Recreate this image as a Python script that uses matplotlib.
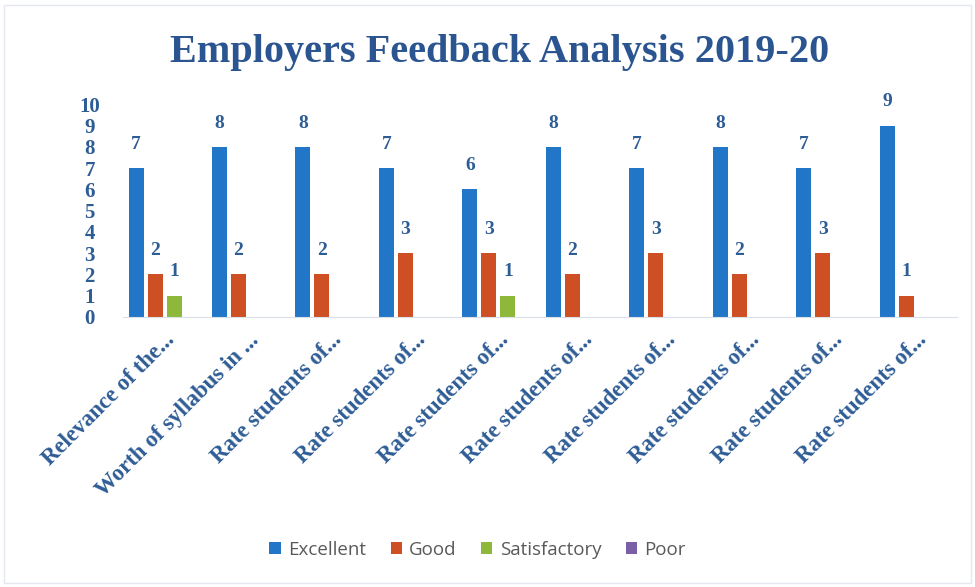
import matplotlib
matplotlib.use("Agg")
import matplotlib.pyplot as plt
import numpy as np

categories = ["Relevance of the...", "Worth of syllabus in ...",
              "Rate students of...", "Rate students of...", "Rate students of...",
              "Rate students of...", "Rate students of...", "Rate students of...",
              "Rate students of...", "Rate students of..."]
excellent = [7, 8, 8, 7, 6, 8, 7, 8, 7, 9]
good = [2, 2, 2, 3, 3, 2, 3, 2, 3, 1]
satisfactory = [1, 0, 0, 0, 1, 0, 0, 0, 0, 0]
poor = [0, 0, 0, 0, 0, 0, 0, 0, 0, 0]
series_names = ["Excellent", "Good", "Satisfactory", "Poor"]
y_ticks = [0, 1, 2, 3, 4, 5, 6, 7, 8, 9, 10]

colors = ["#2176C7", "#CF4F24", "#8DB83A", "#7A5EA8"]
text_blue = "#2E5C95"
serif = ["Liberation Serif", "DejaVu Serif"]

fig = plt.figure(figsize=(9.75, 5.87), dpi=100)
ax = fig.add_axes([0.126, 0.46, 0.856, 0.362])

x = np.arange(len(categories))
pitch = 0.228
width = 0.18
all_series = [excellent, good, satisfactory, poor]
for i, (vals, name, c) in enumerate(zip(all_series, series_names, colors)):
    pos = x + (i - 1.5) * pitch
    bars = ax.bar(pos, vals, width=width, color=c, label=name)
    for p, v in zip(pos, vals):
        if v > 0:
            ax.annotate(str(v), (p, v), xytext=(0, 11), textcoords="offset points",
                        ha="center", va="bottom", fontsize=14, fontweight="bold",
                        color=text_blue, family=serif)

ax.set_xlim(-0.5, len(categories) - 0.5)
ax.set_ylim(0, 10)
ax.set_yticks(y_ticks)
ax.set_yticklabels([str(t) for t in y_ticks], fontsize=15, fontweight="bold",
                   color=text_blue, family=serif)
ax.set_xticks(x)
ax.set_xticklabels(categories, rotation=45, ha="right", rotation_mode="anchor",
                   fontsize=16.5, fontweight="bold", color=text_blue, family=serif)
ax.tick_params(axis="both", length=0)
ax.tick_params(axis="x", pad=9)
ax.tick_params(axis="y", pad=24)
for lab in ax.get_yticklabels():
    lab.set_horizontalalignment("center")
for s in ["top", "right", "left"]:
    ax.spines[s].set_visible(False)
ax.spines["bottom"].set_color("#D9DEE8")

fig.text(0.512, 0.91, "Employers Feedback Analysis 2019-20", ha="center", va="center",
         fontsize=29, fontweight="bold", color="#2B5590", family=serif)

leg = fig.legend(loc="center", bbox_to_anchor=(0.49, 0.063), ncol=4, frameon=False,
                 handlelength=0.6, handleheight=0.6, columnspacing=1.3,
                 handletextpad=0.4, prop={"family": "Open Sans", "size": 13.5})
for t in leg.get_texts():
    t.set_color("#595959")

border = plt.Rectangle((0.004, 0.006), 0.992, 0.985, transform=fig.transFigure,
                       fill=False, edgecolor="#E4E8EE", linewidth=1)
fig.patches.append(border)

fig.savefig("out.png", dpi=100)
